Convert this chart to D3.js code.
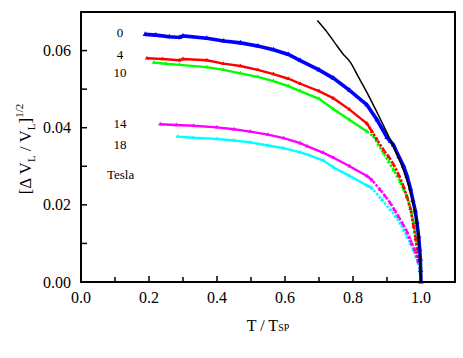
<!DOCTYPE html>
<html><head><meta charset="utf-8">
<script src="https://cdn.jsdelivr.net/npm/d3@7"></script>
<style>body{margin:0;background:#fff}svg{display:block}</style>
</head><body><svg id="c" width="463" height="358"></svg>
<script>
// T / Tsp , [dV/V]^1/2
const t0 = [0.189,0.22,0.26,0.29,0.30,0.37,0.42,0.469,0.52,0.566,0.61,0.645,0.70,0.743,0.79,0.841,0.871,0.90,0.91,0.919,0.935,0.949,0.959,0.969,0.976,0.983,0.988,0.993,0.996,0.998,0.999,1.0];
const v0 = [0.0642,0.0640,0.0636,0.0634,0.0638,0.0632,0.0625,0.0620,0.0612,0.0602,0.0590,0.0574,0.0550,0.0528,0.0497,0.0459,0.0420,0.0375,0.0365,0.0355,0.0325,0.0300,0.0275,0.0242,0.0212,0.0185,0.0155,0.0118,0.0085,0.0060,0.0030,0.0];
const t4 = [0.194,0.24,0.29,0.30,0.37,0.419,0.469,0.52,0.566,0.61,0.645,0.70,0.743,0.79,0.841,0.856,0.87,0.89,0.905,0.919,0.935,0.949,0.959,0.969,0.978,0.984,0.988,0.993];
const v4 = [0.0580,0.0578,0.0575,0.0578,0.0575,0.0566,0.0560,0.0550,0.0539,0.0527,0.0514,0.0495,0.0476,0.0447,0.0411,0.0390,0.0370,0.0342,0.0325,0.0305,0.0277,0.0247,0.0220,0.0190,0.0145,0.0112,0.0085,0.0055];
const t10 = [0.214,0.25,0.29,0.37,0.419,0.469,0.52,0.566,0.61,0.645,0.70,0.743,0.79,0.841,0.861,0.875,0.89,0.905,0.919,0.93,0.939,0.949,0.959,0.966,0.973,0.978,0.983,0.988];
const v10 = [0.0569,0.0566,0.0563,0.0557,0.0550,0.0541,0.0532,0.0521,0.0508,0.0495,0.0475,0.0448,0.0420,0.0390,0.0377,0.0355,0.0334,0.0312,0.0290,0.0275,0.0260,0.0240,0.0221,0.0200,0.0178,0.0157,0.0135,0.0100];
const t14 = [0.233,0.28,0.331,0.40,0.45,0.498,0.55,0.596,0.645,0.665,0.713,0.743,0.79,0.841,0.856,0.88,0.895,0.91,0.922,0.934,0.947,0.959,0.966,0.973,0.981,0.988,0.992];
const v14 = [0.0409,0.0407,0.0405,0.0401,0.0396,0.0390,0.0382,0.0373,0.0360,0.0352,0.0335,0.0322,0.0300,0.0275,0.0264,0.0239,0.0222,0.0204,0.0187,0.0169,0.0150,0.0130,0.0115,0.0100,0.0083,0.0066,0.0052];
const t18 = [0.284,0.33,0.40,0.45,0.498,0.55,0.596,0.645,0.67,0.713,0.743,0.79,0.841,0.856,0.885,0.91,0.925,0.939,0.949,0.959,0.969,0.978,0.986,0.993,1.0];
const v18 = [0.0377,0.0374,0.0371,0.0367,0.0362,0.0354,0.0347,0.0336,0.0329,0.0315,0.0297,0.0275,0.0250,0.0243,0.0213,0.0187,0.0170,0.0152,0.0135,0.0117,0.0100,0.0083,0.0065,0.0048,0.0];
const tFit = [0.695,0.72,0.745,0.77,0.792,0.815,0.84,0.866,0.89,0.91,0.944,0.969,0.986,0.996,1.0];
const vFit = [0.0678,0.0652,0.0622,0.0592,0.0570,0.0533,0.0493,0.0448,0.0405,0.0368,0.0300,0.0232,0.0161,0.0083,0.0];
const fieldLabels = ["0","4","10","14","18"];
const colors = ["#0000ff","#ff0000","#00ff00","#ff00ff","#00ffff"];
const xTicks = [0,0.2,0.4,0.6,0.8,1.0];
const yTicks = [0,0.02,0.04,0.06];

const FONT = "'Liberation Serif', 'Times New Roman', serif";
const svg = d3.select("#c");
const L=81,R=455,T=12,B=282;
const x = d3.scaleLinear().domain([0,1.1]).range([L,R]);
const y = d3.scaleLinear().domain([0,0.07]).range([B,T]);

const series = [[t0,v0],[t4,v4],[t10,v10],[t14,v14],[t18,v18]].map(([t,v],i)=>({
  pts: t.map((d,j)=>[d,v[j]]), color: colors[i], idx:i}));

const line = d3.line().x(d=>x(d[0])).y(d=>y(d[1]));
const g = svg.append("g");
series.slice().reverse().forEach(s=>{
  const dense = s.idx===0 ? s.pts : s.pts.filter(p=>p[0]<=0.86);
  const tail = s.idx===0 ? [] : s.pts.filter(p=>p[0]>=0.84);
  g.append("path").attr("d",line(dense)).attr("fill","none")
    .attr("stroke",s.color).attr("stroke-width",s.idx===0?3.6:2.4);
  if (tail.length) g.append("path").attr("d",line(tail)).attr("fill","none")
    .attr("stroke",s.color).attr("stroke-width",2.6).attr("stroke-dasharray","2.5,1.6");
  g.selectAll(null).data(s.pts).enter().append("path")
    .attr("d",d3.symbol(d3.symbolTriangle, s.idx===0?12:8)())
    .attr("transform",d=>`translate(${x(d[0])},${y(d[1])})`)
    .attr("fill",s.color);
});
g.append("path").attr("d",d3.line().x(d=>x(d[0])).y(d=>y(d[1])).curve(d3.curveMonotoneX)(tFit.map((d,j)=>[d,vFit[j]])))
  .attr("fill","none").attr("stroke","#000").attr("stroke-width",1.5);

svg.append("rect").attr("x",L).attr("y",T).attr("width",R-L).attr("height",B-T)
  .attr("fill","none").attr("stroke","#000").attr("stroke-width",2);

const xa = svg.append("g");
d3.range(0,11).map(i=>i/10).forEach(v=>{
  const major = Math.round(v*10)%2===0;
  xa.append("line").attr("x1",x(v)).attr("x2",x(v)).attr("y1",B).attr("y2",B-(major?6:5))
    .attr("stroke","#000").attr("stroke-width",1.5);
});
xTicks.forEach(v=>xa.append("text").attr("x",x(v)).attr("y",303).attr("text-anchor","middle")
  .style("font-family",FONT).attr("font-size",16).text(d3.format(".1f")(v)));
const ya = svg.append("g");
d3.range(0,7).map(i=>i/100).forEach(v=>{
  ya.append("line").attr("x1",L).attr("x2",L+6).attr("y1",y(v)).attr("y2",y(v))
    .attr("stroke","#000").attr("stroke-width",1.5);
});
yTicks.forEach(v=>ya.append("text").attr("x",71).attr("y",y(v)+5.5).attr("text-anchor","end")
  .style("font-family",FONT).attr("font-size",16).text(d3.format(".2f")(v)));

const xt = svg.append("text").attr("x",268).attr("y",331).attr("text-anchor","middle").style("font-family",FONT).attr("font-size",16);
xt.append("tspan").text("T / T");
xt.append("tspan").attr("font-size",10).text("SP");

const yt = svg.append("text").attr("transform","translate(31,149) rotate(-90)").attr("text-anchor","middle").style("font-family",FONT).attr("font-size",17);
yt.append("tspan").text("[Δ V");
yt.append("tspan").attr("font-size",11).attr("dy",4).text("L");
yt.append("tspan").attr("dy",-4).text(" / V");
yt.append("tspan").attr("font-size",11).attr("dy",4).text("L");
yt.append("tspan").attr("dy",-4).text("]");
yt.append("tspan").attr("font-size",11).attr("dy",-8).text("1/2");

const labY = [37,59,77,128,149];
fieldLabels.forEach((s,i)=>svg.append("text").attr("x",120).attr("y",labY[i]).attr("text-anchor","middle").style("font-family",FONT).attr("font-size",13).text(s));
svg.append("text").attr("x",107).attr("y",179).style("font-family",FONT).attr("font-size",13).text("Tesla");
</script></body></html>
